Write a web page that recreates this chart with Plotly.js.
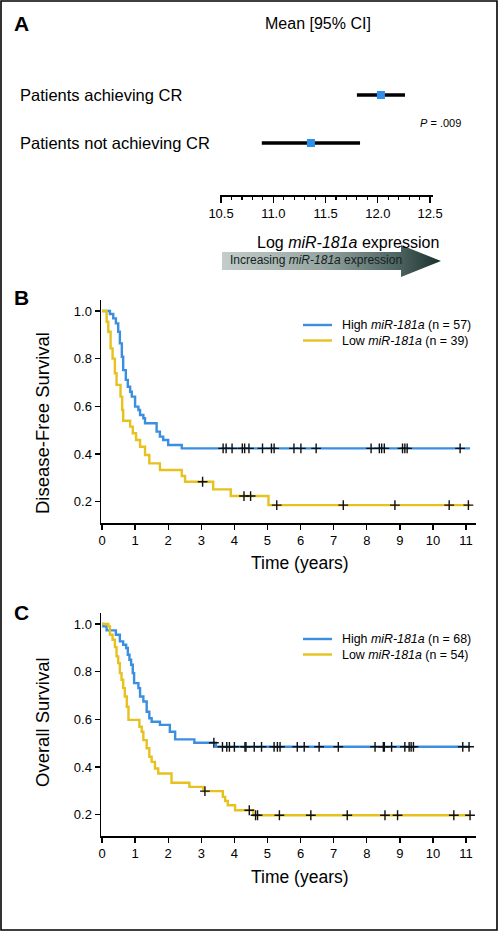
<!DOCTYPE html>
<html>
<head>
<meta charset="utf-8">
<script src="https://cdn.plot.ly/plotly-3.0.1.min.js"></script>
<style>html,body{margin:0;padding:0;background:#fff;}#chart{width:500px;height:932px;}</style>
</head>
<body>
<div id="chart"></div>
<script>
// ---------- Panel A: forest plot data ----------
const forestLabels = ['Patients achieving CR', 'Patients not achieving CR'];
const forestPos = [1, 0];
const forestMean = [12.03, 11.36];
const forestLow = [11.80, 10.89];
const forestHigh = [12.26, 11.83];
const forestTicks = [10.5, 11.0, 11.5, 12.0, 12.5];

// ---------- Panel B: disease-free survival ----------
const dfsHighT = [0, 0.24, 0.34, 0.42, 0.49, 0.54, 0.60, 0.64, 0.72, 0.78, 0.85, 0.90, 1.00, 1.10, 1.15, 1.25, 1.30, 1.65, 1.75, 1.85, 2.00, 2.41, 11.12];
const dfsHighS = [1, 0.987, 0.969, 0.948, 0.913, 0.864, 0.808, 0.752, 0.711, 0.682, 0.661, 0.641, 0.599, 0.585, 0.564, 0.550, 0.529, 0.494, 0.473, 0.459, 0.438, 0.424, 0.424];
const dfsHighCensor = [3.66, 3.75, 3.93, 4.24, 4.31, 4.44, 4.85, 5.12, 5.20, 5.80, 6.01, 6.47, 8.13, 8.38, 8.45, 8.53, 9.08, 9.15, 9.22, 10.82];
const dfsLowT = [0, 0.14, 0.19, 0.26, 0.32, 0.39, 0.44, 0.56, 0.61, 0.64, 0.85, 0.93, 1.03, 1.15, 1.30, 1.43, 1.75, 2.41, 2.51, 3.36, 3.89, 5.03, 11.12];
const dfsLowS = [1, 0.955, 0.913, 0.843, 0.800, 0.739, 0.690, 0.641, 0.585, 0.540, 0.515, 0.487, 0.459, 0.431, 0.396, 0.361, 0.333, 0.308, 0.284, 0.252, 0.224, 0.186, 0.186];
const dfsLowCensor = [3.04, 4.29, 4.49, 5.28, 7.29, 8.85, 10.49, 11.07];

// ---------- Panel C: overall survival ----------
const osHighT = [0, 0.04, 0.14, 0.42, 0.54, 0.64, 0.73, 0.78, 0.83, 0.88, 0.93, 0.97, 1.10, 1.15, 1.25, 1.35, 1.43, 1.50, 1.75, 2.05, 2.21, 2.79, 3.44, 11.12];
const osHighS = [1, 0.990, 0.973, 0.955, 0.927, 0.913, 0.899, 0.871, 0.850, 0.829, 0.794, 0.752, 0.731, 0.696, 0.675, 0.632, 0.605, 0.590, 0.577, 0.548, 0.516, 0.502, 0.485, 0.485];
const osHighCensor = [3.38, 3.64, 3.77, 3.85, 4.00, 4.32, 4.35, 4.60, 4.82, 5.20, 5.30, 5.38, 5.90, 6.11, 6.56, 7.14, 8.25, 8.50, 8.53, 8.75, 9.15, 9.28, 9.34, 9.41, 10.90, 11.09];
const osLowT = [0, 0.19, 0.24, 0.32, 0.39, 0.44, 0.49, 0.54, 0.59, 0.64, 0.69, 0.75, 0.80, 1.13, 1.20, 1.25, 1.35, 1.43, 1.50, 1.60, 1.70, 2.10, 2.64, 3.06, 3.65, 3.72, 3.80, 4.02, 4.57, 11.12];
const osLowS = [1, 0.990, 0.955, 0.934, 0.903, 0.864, 0.836, 0.794, 0.766, 0.731, 0.696, 0.653, 0.598, 0.569, 0.548, 0.513, 0.479, 0.443, 0.422, 0.394, 0.373, 0.334, 0.317, 0.299, 0.275, 0.258, 0.240, 0.219, 0.198, 0.198];
const osLowCensor = [3.11, 4.45, 4.64, 4.70, 5.36, 6.31, 7.41, 8.55, 8.93, 10.63, 11.12];

const timeTicks = [0, 1, 2, 3, 4, 5, 6, 7, 8, 9, 10, 11];
const survTicks = [0.2, 0.4, 0.6, 0.8, 1.0];

const legendB = ['High <i>miR-181a</i> (n = 57)', 'Low <i>miR-181a</i> (n = 39)'];
const legendC = ['High <i>miR-181a</i> (n = 68)', 'Low <i>miR-181a</i> (n = 54)'];

// ---------- helpers ----------
const W = 500, H = 932;
const px = x => x / W;
const py = y => 1 - y / H;
const BLUE = '#3a8fe0';
const GOLD = '#e6c11f';
const SANS = 'Liberation Sans, Arial, sans-serif';

function stepAt(T, S, t) {
  let v = S[0];
  for (let i = 0; i < T.length; i++) { if (T[i] <= t) v = S[i]; }
  return v;
}

function kmTraces(T, S, C, color, xa, ya) {
  return [
    {x: T, y: S, type: 'scatter', mode: 'lines', line: {shape: 'hv', color: color, width: 2.4},
     xaxis: xa, yaxis: ya, hoverinfo: 'skip', showlegend: false},
    {x: C, y: C.map(t => stepAt(T, S, t)), type: 'scatter', mode: 'markers',
     marker: {symbol: 'cross-thin', size: 7, line: {color: '#111', width: 1.4}},
     xaxis: xa, yaxis: ya, hoverinfo: 'skip', showlegend: false}
  ];
}

const traces = [
  // Forest plot
  {x: forestMean, y: forestPos, type: 'scatter', mode: 'markers',
   marker: {symbol: 'square', size: 8, color: '#2e90ea'},
   error_x: {type: 'data', symmetric: false,
             array: forestHigh.map((h, i) => h - forestMean[i]),
             arrayminus: forestLow.map((l, i) => forestMean[i] - l),
             thickness: 3.6, width: 0, color: '#000'},
   xaxis: 'x3', yaxis: 'y3', hoverinfo: 'skip', showlegend: false},
  ...kmTraces(dfsHighT, dfsHighS, dfsHighCensor, BLUE, 'x', 'y'),
  ...kmTraces(dfsLowT, dfsLowS, dfsLowCensor, GOLD, 'x', 'y'),
  ...kmTraces(osHighT, osHighS, osHighCensor, BLUE, 'x2', 'y2'),
  ...kmTraces(osLowT, osLowS, osLowCensor, GOLD, 'x2', 'y2')
];

const kmX = {
  range: [-0.03, 11.3], showgrid: false, zeroline: false, showline: true,
  linecolor: '#000', linewidth: 1.5, ticks: 'outside', ticklen: 5, tickwidth: 1.3, tickcolor: '#000',
  tickvals: timeTicks, ticktext: timeTicks.map(String),
  tickfont: {family: SANS, size: 13, color: '#000'}, fixedrange: true
};
const kmY = {
  range: [0.111, 1.046], showgrid: false, zeroline: false, showline: true,
  linecolor: '#000', linewidth: 1.5, ticks: 'outside', ticklen: 5, tickwidth: 1.3, tickcolor: '#000',
  tickvals: survTicks, ticktext: survTicks.map(v => v.toFixed(1)),
  tickfont: {family: SANS, size: 13, color: '#000'}, fixedrange: true
};

const annotations = [
  {text: '<b>A</b>', x: px(12), y: py(24), xref: 'paper', yref: 'paper', xanchor: 'left', yanchor: 'middle',
   showarrow: false, font: {family: SANS, size: 21, color: '#000'}},
  {text: '<b>B</b>', x: px(12), y: py(297), xref: 'paper', yref: 'paper', xanchor: 'left', yanchor: 'middle',
   showarrow: false, font: {family: SANS, size: 21, color: '#000'}},
  {text: '<b>C</b>', x: px(12), y: py(612), xref: 'paper', yref: 'paper', xanchor: 'left', yanchor: 'middle',
   showarrow: false, font: {family: SANS, size: 21, color: '#000'}},
  {text: 'Mean [95% CI]', x: px(318), y: py(24), xref: 'paper', yref: 'paper', xanchor: 'center', yanchor: 'middle',
   showarrow: false, font: {family: SANS, size: 16, color: '#000'}},
  {text: '<i>P</i> = .009', x: px(418), y: py(123), xref: 'paper', yref: 'paper', xanchor: 'left', yanchor: 'middle',
   showarrow: false, font: {family: SANS, size: 11, color: '#000'}},
  {text: 'Log <i>miR-181a</i> expression', x: px(348), y: py(242), xref: 'paper', yref: 'paper', xanchor: 'center', yanchor: 'middle',
   showarrow: false, font: {family: SANS, size: 16, color: '#000'}},
  {text: 'Increasing <i>miR-181a</i> expression', x: px(228), y: py(260), xref: 'paper', yref: 'paper', xanchor: 'left', yanchor: 'middle',
   showarrow: false, font: {family: SANS, size: 12, color: '#13211f'}},
  {text: 'Time (years)', x: px(300), y: py(563), xref: 'paper', yref: 'paper', xanchor: 'center', yanchor: 'middle',
   showarrow: false, font: {family: SANS, size: 17.5, color: '#000'}},
  {text: 'Time (years)', x: px(300), y: py(877), xref: 'paper', yref: 'paper', xanchor: 'center', yanchor: 'middle',
   showarrow: false, font: {family: SANS, size: 17.5, color: '#000'}},
  {text: 'Disease-Free Survival', x: px(42), y: py(423), xref: 'paper', yref: 'paper', xanchor: 'center', yanchor: 'middle',
   textangle: -90, showarrow: false, font: {family: SANS, size: 18.5, color: '#000'}},
  {text: 'Overall Survival', x: px(42), y: py(722), xref: 'paper', yref: 'paper', xanchor: 'center', yanchor: 'middle',
   textangle: -90, showarrow: false, font: {family: SANS, size: 18.5, color: '#000'}}
];
forestLabels.forEach((lab, i) => annotations.push({
  text: lab, x: px(18), y: forestPos[i], xref: 'paper', yref: 'y3', xanchor: 'left', yanchor: 'middle',
  showarrow: false, font: {family: SANS, size: 16.5, color: '#000'}
}));

const shapes = [
  {type: 'rect', xref: 'paper', yref: 'paper', x0: px(1), x1: px(497), y0: py(930), y1: py(1),
   line: {color: '#000', width: 1.6}, fillcolor: 'rgba(0,0,0,0)'}
];
function addLegend(labels, yTop) {
  [BLUE, GOLD].forEach((c, i) => {
    const yy = yTop + i * 15.5;
    shapes.push({type: 'line', xref: 'paper', yref: 'paper', x0: px(303), x1: px(332), y0: py(yy), y1: py(yy),
                 line: {color: c, width: 2.4}});
    annotations.push({text: labels[i], x: px(340), y: py(yy), xref: 'paper', yref: 'paper',
                      xanchor: 'left', yanchor: 'middle', showarrow: false,
                      font: {family: SANS, size: 12.4, color: '#000'}});
  });
}
addLegend(legendB, 325);
addLegend(legendC, 639);

const arrowSvg = '<svg xmlns="http://www.w3.org/2000/svg" width="219" height="34" viewBox="0 0 219 34">' +
  '<defs><linearGradient id="g" x1="0" y1="0" x2="1" y2="0">' +
  '<stop offset="0" stop-color="#c3cdc9"/><stop offset="0.45" stop-color="#97a6a2"/>' +
  '<stop offset="0.8" stop-color="#4e6561"/><stop offset="1" stop-color="#1b302d"/></linearGradient></defs>' +
  '<polygon points="0,8 179,8 179,1 219,17 179,33 179,26 0,26" fill="url(#g)"/></svg>';

const layout = {
  width: W, height: H,
  margin: {l: 0, r: 0, t: 0, b: 0},
  paper_bgcolor: '#fff', plot_bgcolor: 'rgba(0,0,0,0)',
  showlegend: false,
  xaxis: Object.assign({}, kmX, {domain: [px(101), px(476)], anchor: 'y'}),
  yaxis: Object.assign({}, kmY, {domain: [py(523), py(300)], anchor: 'x'}),
  xaxis2: Object.assign({}, kmX, {domain: [px(101), px(476)], anchor: 'y2'}),
  yaxis2: Object.assign({}, kmY, {domain: [py(836), py(613)], anchor: 'x2'}),
  xaxis3: {
    domain: [px(220), px(433)], range: [10.49, 12.528], anchor: 'free', position: py(195),
    showgrid: false, zeroline: false, showline: true, linecolor: '#000', linewidth: 1.6,
    ticks: 'outside', ticklen: 6, tickwidth: 1.3, tickcolor: '#000',
    tickvals: forestTicks, ticktext: forestTicks.map(v => v.toFixed(1)),
    tickfont: {family: SANS, size: 13, color: '#000'},
    minor: {tickmode: 'linear', tick0: 10.5, dtick: 0.1, ticks: 'outside', ticklen: 3, tickwidth: 1.1, tickcolor: '#000', showgrid: false},
    fixedrange: true
  },
  yaxis3: {domain: [py(167), py(71)], range: [-0.5, 1.5], anchor: 'x3', visible: false, fixedrange: true},
  annotations: annotations,
  shapes: shapes,
  images: [{source: 'data:image/svg+xml;charset=utf-8,' + encodeURIComponent(arrowSvg),
            xref: 'paper', yref: 'paper', x: px(222), y: py(244), sizex: px(219), sizey: 34 / H,
            sizing: 'stretch', xanchor: 'left', yanchor: 'top', layer: 'below'}]
};

Plotly.newPlot('chart', traces, layout, {staticPlot: true, displayModeBar: false});
</script>
</body>
</html>
